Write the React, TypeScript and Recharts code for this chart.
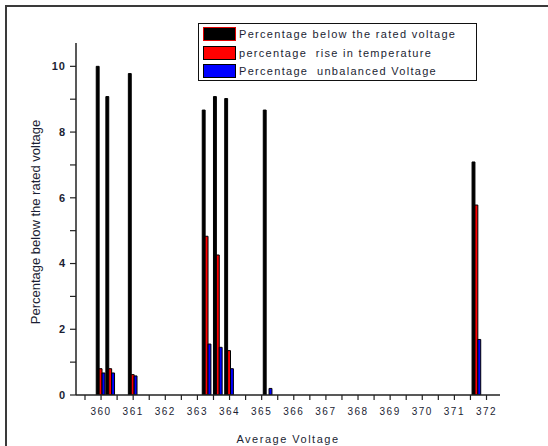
import { BarChart, Bar, XAxis, YAxis, Label } from 'recharts'

// average voltage for each measurement
const voltages = [360, 360.3, 361, 363.3, 363.65, 364, 365.2, 371.7]
const belowRated = [10.0, 9.08, 9.78, 8.67, 9.08, 9.02, 8.67, 7.09]
const tempRise = [0.8, 0.8, 0.62, 4.83, 4.26, 1.35, 0, 5.78]
const unbalanced = [0.67, 0.67, 0.58, 1.55, 1.45, 0.8, 0.2, 1.69]

const xTicks = [
  359.5, 360, 360.5, 361, 361.5, 362, 362.5, 363, 363.5, 364, 364.5, 365, 365.5, 366, 366.5,
  367, 367.5, 368, 368.5, 369, 369.5, 370, 370.5, 371, 371.5, 372,
]
const yTicks = [0, 1, 2, 3, 4, 5, 6, 7, 8, 9, 10]

const seriesNames = [
  'Percentage below the rated voltage',
  'percentage  rise in temperature',
  'Percentage  unbalanced Voltage',
]

const data = voltages.map((v, i) => ({
  voltage: v,
  below: belowRated[i],
  rise: tempRise[i],
  unbal: unbalanced[i],
}))

const TEXT = '#1b1e33'
const FONT = 'Arial, "Liberation Sans", sans-serif'

function OriginLegend() {
  const swatches = [
    { fill: '#000', border: '#e00000' },
    { fill: '#ff0000', border: '#000' },
    { fill: '#0000ff', border: '#000' },
  ]
  return (
    <div
      style={{
        position: 'absolute',
        left: 198,
        top: 23,
        width: 279,
        height: 58,
        border: '1.5px solid #111',
        background: '#fff',
        boxSizing: 'border-box',
        paddingTop: 1,
        paddingLeft: 4,
      }}
    >
      {seriesNames.map((name, i) => (
        <div key={name} style={{ display: 'flex', alignItems: 'center', height: 18.5 }}>
          <div
            style={{
              width: 33,
              height: 14,
              background: swatches[i].fill,
              border: `1.5px solid ${swatches[i].border}`,
              boxSizing: 'border-box',
              marginRight: 3,
            }}
          />
          <span
            style={{
              fontFamily: FONT,
              fontSize: 11,
              letterSpacing: 1.3,
              color: TEXT,
              whiteSpace: 'pre',
            }}
          >
            {name}
          </span>
        </div>
      ))}
    </div>
  )
}

export default function App() {
  return (
    <div
      style={{
        position: 'absolute',
        left: 0,
        top: 0,
        width: 548,
        height: 446,
        overflow: 'hidden',
        background: '#fff',
      }}
    >
      <div
        style={{
          position: 'absolute',
          left: 5,
          top: 5,
          width: 570,
          height: 470,
          border: '2px solid #3a3a3a',
        }}
      />
      <div style={{ position: 'absolute', left: 0, top: 0 }}>
        <BarChart
          width={548}
          height={446}
          data={data}
          barGap={0}
          margin={{ top: 43, right: 48, bottom: 0, left: 0 }}
        >
          <XAxis
            type="number"
            dataKey="voltage"
            domain={[359.22, 372.42]}
            ticks={xTicks}
            interval={0}
            allowDataOverflow
            height={51}
            tickSize={5}
            tickMargin={8}
            tickFormatter={(v: number) => (Number.isInteger(v) ? String(v) : '')}
            axisLine={{ stroke: '#222', strokeWidth: 1.5 }}
            tickLine={{ stroke: '#222', strokeWidth: 1.2 }}
            tick={{ fontSize: 10, fill: TEXT, fontFamily: FONT, letterSpacing: 1.5 }}
          >
            <Label
              value="Average Voltage"
              position="insideBottom"
              offset={3}
              style={{ fontSize: 11, fill: TEXT, fontFamily: FONT, letterSpacing: 1.5 }}
            />
          </XAxis>
          <YAxis
            type="number"
            domain={[0, 10.71]}
            ticks={yTicks}
            interval={0}
            allowDataOverflow
            width={76}
            tickSize={6}
            tickMargin={4}
            tickFormatter={(v: number) => (v % 2 === 0 ? String(v) : '')}
            axisLine={{ stroke: '#222', strokeWidth: 1.5 }}
            tickLine={{ stroke: '#222', strokeWidth: 1.2 }}
            tick={{ fontSize: 11, fill: TEXT, fontFamily: FONT, fontWeight: 'bold', letterSpacing: 1 }}
          >
            <Label
              value="Percentage below the rated voltage"
              angle={-90}
              position="insideLeft"
              dx={30}
              dy={3}
              style={{ fontSize: 13, fill: TEXT, fontFamily: FONT, textAnchor: 'middle' }}
            />
          </YAxis>
          <Bar dataKey="below" barSize={4.7} fill="#000" stroke="#000" strokeWidth={1} isAnimationActive={false} />
          <Bar dataKey="rise" barSize={3.2} fill="#ff0000" stroke="#000" strokeWidth={1} isAnimationActive={false} />
          <Bar dataKey="unbal" barSize={3.4} fill="#0000ff" stroke="#000" strokeWidth={1} isAnimationActive={false} />
        </BarChart>
      </div>
      <OriginLegend />
    </div>
  )
}
